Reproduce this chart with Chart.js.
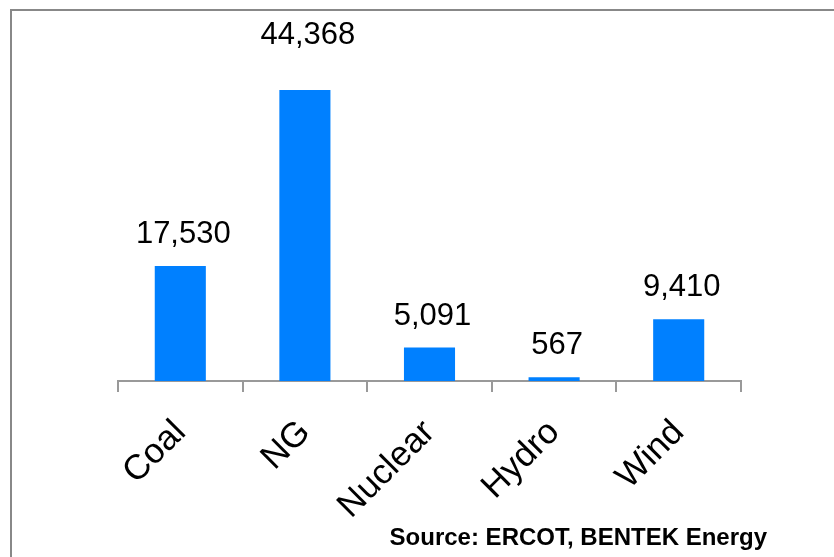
<!DOCTYPE html>
<html>
<head>
<meta charset="utf-8">
<script src="https://cdn.jsdelivr.net/npm/chart.js@4.4.1/dist/chart.umd.min.js"></script>
<style>
  body { margin: 0; background: #fff; }
  canvas { display: block; }
</style>
</head>
<body>
<canvas id="capacity-chart" width="834" height="557"></canvas>
<script>
// ERCOT generating capacity by fuel (MW)
var fuelTypes = ["Coal", "NG", "Nuclear", "Hydro", "Wind"];
var capacityMW = [17530, 44368, 5091, 567, 9410];
var sourceNote = "Source: ERCOT, BENTEK Energy";

var FONT = "'Liberation Sans', Arial, sans-serif";

// grey frame at top and left, like the pasted slide
var framePlugin = {
    id: 'frame',
    beforeDraw: function(chart) {
        var ctx = chart.ctx;
        ctx.save();
        ctx.fillStyle = '#888';
        ctx.fillRect(10, 9, chart.width - 10, 2);
        ctx.fillRect(10, 9, 2, chart.height - 9);
        ctx.restore();
    }
};

// value labels above the bars + source line
var labelPlugin = {
    id: 'valueLabels',
    afterDatasetsDraw: function(chart) {
        var ctx = chart.ctx;
        var meta = chart.getDatasetMeta(0);
        var top = Math.max.apply(null, capacityMW);
        ctx.save();
        ctx.fillStyle = '#000';
        ctx.font = '31px ' + FONT;
        ctx.textAlign = 'center';
        ctx.textBaseline = 'alphabetic';
        meta.data.forEach(function(bar, i) {
            var v = capacityMW[i];
            var lift = v === top ? 46 : 23; // tallest label sits higher
            ctx.fillText(v.toLocaleString('en-US'), bar.x + 3, bar.y - lift);
        });
        ctx.font = 'bold 24px ' + FONT;
        ctx.textAlign = 'right';
        ctx.fillText(sourceNote, 767, 545);
        ctx.restore();
    }
};

var capacityChart = new Chart(
    document.getElementById('capacity-chart'),
    {
        type: 'bar',
        data: {
            labels: fuelTypes,
            datasets: [{
                data: capacityMW,
                backgroundColor: '#0080ff',
                categoryPercentage: 1.0,
                barPercentage: 0.41
            }]
        },
        options: {
            responsive: false,
            animation: false,
            layout: { padding: { left: 118, right: 93, top: 53, bottom: 0 } },
            plugins: {
                legend: { display: false },
                tooltip: { enabled: false }
            },
            scales: {
                x: {
                    grid: {
                        drawOnChartArea: false,
                        drawTicks: true,
                        tickLength: 11,
                        color: '#999',
                        lineWidth: 2
                    },
                    border: { display: true, color: '#999', width: 2 },
                    ticks: {
                        color: '#000',
                        font: { family: FONT, size: 35 },
                        minRotation: 45,
                        maxRotation: 45,
                        padding: 20
                    },
                    afterFit: function(scale) {
                        scale.height = 176;
                    }
                },
                y: {
                    display: false,
                    min: 0,
                    max: 50000
                }
            }
        },
        plugins: [framePlugin, labelPlugin]
    }
);
</script>
</body>
</html>
